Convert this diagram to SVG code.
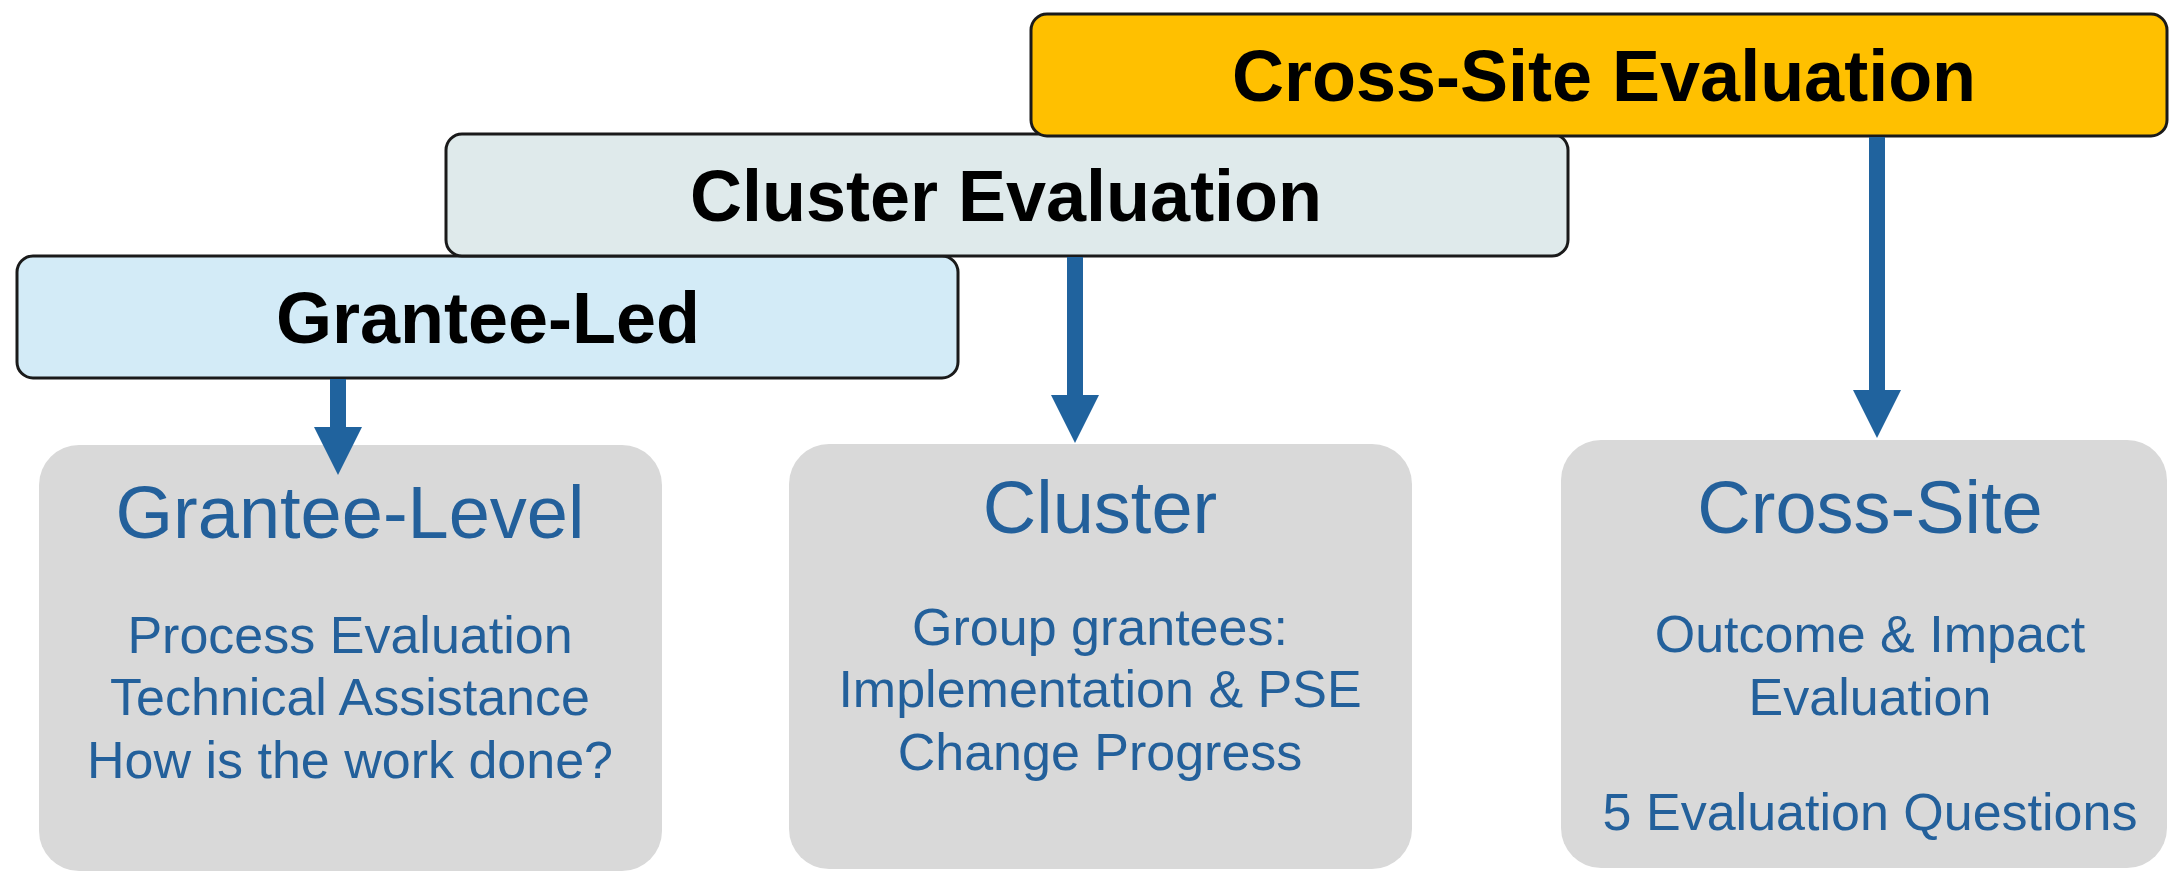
<svg xmlns="http://www.w3.org/2000/svg" width="2170" height="873" viewBox="0 0 2170 873">
  <style>
    .hdr { stroke: #1a1a1a; stroke-width: 3; }
    .hdr-text { font-family: "Liberation Sans", Arial, sans-serif; font-weight: bold; font-size: 72px; fill: #000000; text-anchor: middle; }
    .card { fill: #D9D9D9; }
    .card-title { font-family: "Liberation Sans", Arial, sans-serif; font-size: 74px; fill: #23609B; text-anchor: middle; }
    .card-body { font-family: "Liberation Sans", Arial, sans-serif; font-size: 52px; fill: #23609B; text-anchor: middle; }
    .arrow { stroke: #20639E; stroke-width: 16; fill: none; }
  </style>
  <defs>
    <marker id="ah" viewBox="0 0 48 48" markerWidth="48" markerHeight="48" refX="0" refY="24" orient="auto" markerUnits="userSpaceOnUse">
      <path d="M0,0 L48,24 L0,48 Z" fill="#20639E"/>
    </marker>
  </defs>
  <rect width="2170" height="873" fill="#ffffff"/>

  <g id="node-grantee-led">
    <rect class="hdr" x="17" y="256" width="941" height="122" rx="16" fill="#D3EBF7"/>
    <text class="hdr-text" x="488" y="343">Grantee-Led</text>
  </g>
  <g id="node-cluster-evaluation">
    <rect class="hdr" x="446" y="134" width="1122" height="122" rx="16" fill="#DFEAEB"/>
    <text class="hdr-text" x="1006" y="221">Cluster Evaluation</text>
  </g>
  <g id="node-cross-site-evaluation">
    <rect class="hdr" x="1031" y="14" width="1136" height="122" rx="16" fill="#FFC000"/>
    <text class="hdr-text" x="1604" y="101">Cross-Site Evaluation</text>
  </g>

  <g id="node-grantee-level">
    <rect class="card" x="39" y="445" width="623" height="426" rx="40"/>
    <text class="card-title" x="350" y="538">Grantee-Level</text>
    <text class="card-body" x="350" y="653">Process Evaluation</text>
    <text class="card-body" x="350" y="715">Technical Assistance</text>
    <text class="card-body" x="350" y="778">How is the work done?</text>
  </g>
  <g id="node-cluster">
    <rect class="card" x="789" y="444" width="623" height="425" rx="40"/>
    <text class="card-title" x="1100" y="533">Cluster</text>
    <text class="card-body" x="1100" y="645">Group grantees:</text>
    <text class="card-body" x="1100" y="707">Implementation &amp; PSE</text>
    <text class="card-body" x="1100" y="770">Change Progress</text>
  </g>
  <g id="node-cross-site">
    <rect class="card" x="1561" y="440" width="606" height="428" rx="40"/>
    <text class="card-title" x="1870" y="533">Cross-Site</text>
    <text class="card-body" x="1870" y="652">Outcome &amp; Impact</text>
    <text class="card-body" x="1870" y="715">Evaluation</text>
    <text class="card-body" x="1870" y="830">5 Evaluation Questions</text>
  </g>

  <g id="connectors">
    <line class="arrow" x1="338" y1="379" x2="338" y2="427" marker-end="url(#ah)"/>
    <line class="arrow" x1="1075" y1="257" x2="1075" y2="395" marker-end="url(#ah)"/>
    <line class="arrow" x1="1877" y1="137" x2="1877" y2="390" marker-end="url(#ah)"/>
  </g>
</svg>
